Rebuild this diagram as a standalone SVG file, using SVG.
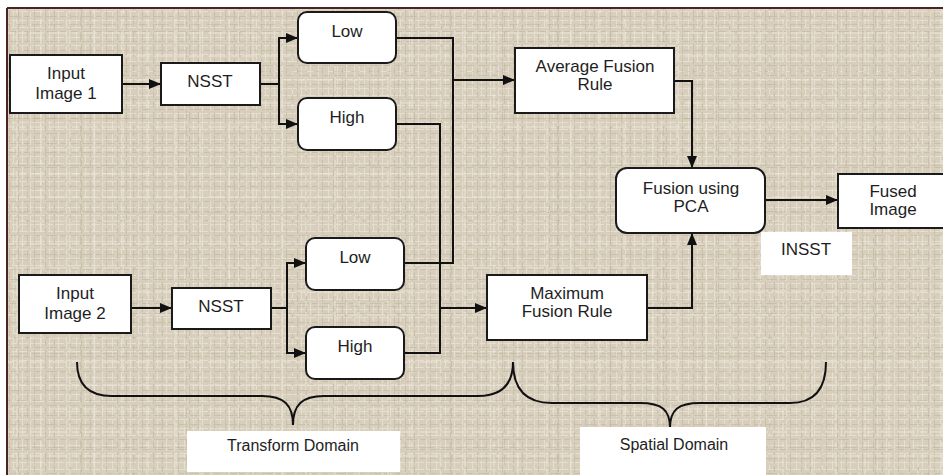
<svg xmlns="http://www.w3.org/2000/svg" width="943" height="475" viewBox="0 0 943 475">
  <defs>
    <!-- woven burlap background -->
    <pattern id="weaveA" width="36" height="34" patternUnits="userSpaceOnUse">
      <rect width="36" height="34" fill="#d7cebc"/>
      <g stroke="#e9e3d6" stroke-width="1" opacity="0.8" stroke-dasharray="9 3 5 2">
        <line x1="0" y1="3.5" x2="36" y2="3.5"/>
        <line x1="0" y1="11.5" x2="36" y2="11.5"/>
        <line x1="0" y1="20.5" x2="36" y2="20.5"/>
        <line x1="0" y1="27.5" x2="36" y2="27.5"/>
        <line x1="4.5" y1="0" x2="4.5" y2="34"/>
        <line x1="13.5" y1="0" x2="13.5" y2="34"/>
        <line x1="22.5" y1="0" x2="22.5" y2="34"/>
        <line x1="30.5" y1="0" x2="30.5" y2="34"/>
      </g>
      <g stroke="#bcb19c" stroke-width="1" opacity="0.5" stroke-dasharray="6 4 11 3">
        <line x1="0" y1="7.5" x2="36" y2="7.5"/>
        <line x1="0" y1="16.5" x2="36" y2="16.5"/>
        <line x1="0" y1="31.5" x2="36" y2="31.5"/>
        <line x1="9.5" y1="0" x2="9.5" y2="34"/>
        <line x1="18.5" y1="0" x2="18.5" y2="34"/>
        <line x1="34.5" y1="0" x2="34.5" y2="34"/>
      </g>
    </pattern>
    <pattern id="weaveB" width="53" height="47" patternUnits="userSpaceOnUse">
      <g stroke="#f2ede4" stroke-width="2" opacity="0.35" stroke-dasharray="14 5 7 4">
        <line x1="0" y1="9" x2="53" y2="9"/>
        <line x1="0" y1="33" x2="53" y2="33"/>
        <line x1="17" y1="0" x2="17" y2="47"/>
        <line x1="41" y1="0" x2="41" y2="47"/>
      </g>
      <g stroke="#a89c86" stroke-width="1" opacity="0.25" stroke-dasharray="10 6">
        <line x1="0" y1="24.5" x2="53" y2="24.5"/>
        <line x1="27.5" y1="0" x2="27.5" y2="47"/>
      </g>
    </pattern>
    <marker id="arrow" viewBox="0 0 12 10" refX="12" refY="5" markerWidth="12" markerHeight="10" markerUnits="userSpaceOnUse" orient="auto">
      <path d="M0,0 L12,5 L0,10 Z" fill="#111"/>
    </marker>
    <style>
      .box { fill: #ffffff; stroke: #1a1a1a; stroke-width: 2; }
      .plain { fill: #ffffff; }
      .lbl { font-family: "Liberation Sans", Arial, sans-serif; font-size: 17px; fill: #1e1e1e; text-anchor: middle; }
      .dom { font-family: "Liberation Sans", Arial, sans-serif; font-size: 16px; fill: #1e1e1e; text-anchor: middle; }
      .wire { fill: none; stroke: #111; stroke-width: 2; }
      .brace { fill: none; stroke: #111; stroke-width: 2; }
    </style>
  </defs>

  <!-- background and frame -->
  <rect width="943" height="475" fill="#ffffff"/>
  <rect x="7" y="8" width="936" height="467" fill="url(#weaveA)"/>
  <rect x="7" y="8" width="936" height="467" fill="url(#weaveB)"/>
  <line x1="7" y1="8" x2="943" y2="8" stroke="#4a2424" stroke-width="2"/>
  <line x1="7" y1="8" x2="7" y2="475" stroke="#4a2424" stroke-width="2"/>

  <!-- connectors -->
  <g id="connectors">
    <line class="wire" x1="122" y1="84" x2="161" y2="84" marker-end="url(#arrow)"/>
    <polyline class="wire" points="260,84 279,84"/>
    <line class="wire" x1="279" y1="37" x2="279" y2="125"/>
    <line class="wire" x1="279" y1="38" x2="298" y2="38" marker-end="url(#arrow)"/>
    <line class="wire" x1="279" y1="124" x2="298" y2="124" marker-end="url(#arrow)"/>

    <line class="wire" x1="131" y1="308" x2="172" y2="308" marker-end="url(#arrow)"/>
    <polyline class="wire" points="271,308 287,308"/>
    <line class="wire" x1="287" y1="262" x2="287" y2="354"/>
    <line class="wire" x1="287" y1="263" x2="306" y2="263" marker-end="url(#arrow)"/>
    <line class="wire" x1="287" y1="353" x2="306" y2="353" marker-end="url(#arrow)"/>

    <polyline class="wire" points="396,38 453,38 453,263 404,263"/>
    <line class="wire" x1="453" y1="80" x2="515" y2="80" marker-end="url(#arrow)"/>
    <polyline class="wire" points="396,124 440,124 440,353 404,353"/>
    <line class="wire" x1="440" y1="308" x2="487" y2="308" marker-end="url(#arrow)"/>

    <polyline class="wire" points="674,81 692,81 692,168" marker-end="url(#arrow)"/>
    <polyline class="wire" points="647,308 692,308 692,233" marker-end="url(#arrow)"/>
    <line class="wire" x1="765" y1="200" x2="838" y2="200" marker-end="url(#arrow)"/>
  </g>

  <!-- nodes -->
  <g id="input1">
    <rect class="box" x="10" y="55" width="112" height="58"/>
    <text class="lbl" x="66" y="79">Input</text>
    <text class="lbl" x="66" y="99">Image 1</text>
  </g>
  <g id="nsst1">
    <rect class="box" x="161" y="63" width="99" height="42"/>
    <text class="lbl" x="210" y="87">NSST</text>
  </g>
  <g id="low1">
    <rect class="box" x="298" y="12" width="98" height="51" rx="9"/>
    <text class="lbl" x="347" y="37">Low</text>
  </g>
  <g id="high1">
    <rect class="box" x="298" y="98" width="98" height="52" rx="9"/>
    <text class="lbl" x="347" y="123">High</text>
  </g>
  <g id="input2">
    <rect class="box" x="19" y="275" width="112" height="58"/>
    <text class="lbl" x="75" y="299">Input</text>
    <text class="lbl" x="75" y="319">Image 2</text>
  </g>
  <g id="nsst2">
    <rect class="box" x="172" y="288" width="99" height="41"/>
    <text class="lbl" x="221" y="312">NSST</text>
  </g>
  <g id="low2">
    <rect class="box" x="306" y="238" width="98" height="52" rx="9"/>
    <text class="lbl" x="355" y="263">Low</text>
  </g>
  <g id="high2">
    <rect class="box" x="306" y="327" width="98" height="52" rx="9"/>
    <text class="lbl" x="355" y="352">High</text>
  </g>
  <g id="average">
    <rect class="box" x="515" y="48" width="159" height="65"/>
    <text class="lbl" x="595" y="72">Average Fusion</text>
    <text class="lbl" x="595" y="90">Rule</text>
  </g>
  <g id="maximum">
    <rect class="box" x="487" y="275" width="160" height="65"/>
    <text class="lbl" x="567" y="299">Maximum</text>
    <text class="lbl" x="567" y="317">Fusion Rule</text>
  </g>
  <g id="pca">
    <rect class="box" x="616" y="168" width="149" height="65" rx="11"/>
    <text class="lbl" x="691" y="194">Fusion using</text>
    <text class="lbl" x="691" y="212">PCA</text>
  </g>
  <g id="fused">
    <rect class="box" x="838" y="174" width="110" height="54"/>
    <text class="lbl" x="893" y="197">Fused</text>
    <text class="lbl" x="893" y="215">Image</text>
  </g>
  <g id="insst">
    <rect class="plain" x="761" y="232" width="91" height="43"/>
    <text class="lbl" x="806" y="255">INSST</text>
  </g>

  <!-- domain braces -->
  <g id="braces">
    <path class="brace" d="M77,362 C77,384 88,396 112,396 L262,396 C284,396 293,405 293,425 C293,405 302,396 324,396 L478,396 C502,396 513,384 513,362"/>
    <path class="brace" d="M513,362 C513,390 526,403 552,403 L640,403 C662,403 670,410 670,428 C670,410 678,403 700,403 L790,403 C814,403 826,390 826,362"/>
  </g>
  <g id="transform-domain">
    <rect class="plain" x="187" y="431" width="213" height="41"/>
    <text class="dom" x="293" y="451">Transform Domain</text>
  </g>
  <g id="spatial-domain">
    <rect class="plain" x="580" y="427" width="186" height="48"/>
    <text class="dom" x="674" y="450">Spatial Domain</text>
  </g>
</svg>
